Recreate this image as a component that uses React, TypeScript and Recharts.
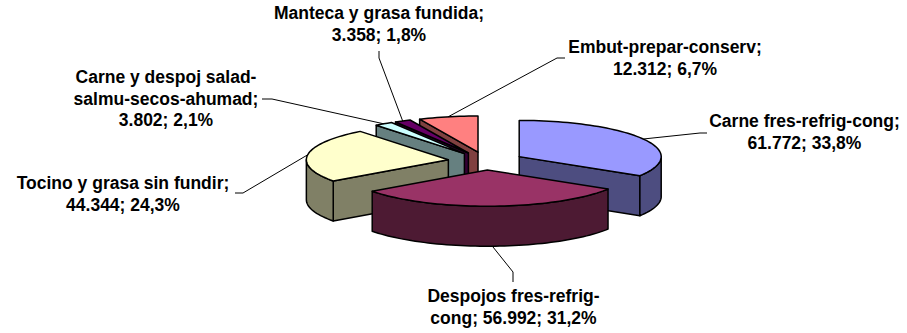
import { Pie, PieChart } from "recharts";

// Data, listed from the slice painted first to the slice painted last
const categories = [
    "Carne fres-refrig-cong",
    "Embut-prepar-conserv",
    "Manteca y grasa fundida",
    "Carne y despoj salad-salmu-secos-ahumad",
    "Tocino y grasa sin fundir",
    "Despojos fres-refrig-cong",
];
const values = [61772, 12312, 3358, 3802, 44344, 56992];
const labelLines = [
    ["Carne fres-refrig-cong;", "61.772; 33,8%"],
    ["Embut-prepar-conserv;", "12.312; 6,7%"],
    ["Manteca y grasa fundida;", "3.358; 1,8%"],
    ["Carne y despoj salad-", "salmu-secos-ahumad;", "3.802; 2,1%"],
    ["Tocino y grasa sin fundir;", "44.344; 24,3%"],
    ["Despojos fres-refrig-", "cong; 56.992; 31,2%"],
];
const fills = ["#9999ff", "#ff8080", "#660066", "#ccffff", "#ffffcc", "#993366"];
const sideFills = ["#4d4d80", "#804040", "#330033", "#668080", "#808066", "#4d1a33"];

const CX = 486;
const CY = 161;
const RADIUS = 142;
const SQUASH = 0.255;
const DEPTH = 40;
const EXPLODE_X = 38;
const EXPLODE_Y = 9;
const LINE_HEIGHT = 21.7;

// label centre + first baseline, and the two leader points beside the text
const labelLayout = [
    { x: 804.5, y: 127, leader: [[707, 133], [700, 133]] },
    { x: 665, y: 53, leader: [[565, 58], [557, 58]] },
    { x: 379, y: 19, leader: [[379, 51], [379, 58]] },
    { x: 166, y: 83, leader: [[262, 99], [272, 99]] },
    { x: 123, y: 189, leader: [[235, 193], [243, 193]] },
    { x: 513.5, y: 302, leader: [[513, 282], [513, 272]] },
];

const data = categories.map((name, i) => ({
    name,
    value: values[i],
    fill: fills[i],
    side: sideFills[i],
}));

const total = values.reduce((a, b) => a + b, 0);
// first slice ends at 12 o'clock, the rest go on counter-clockwise
const START = 90 - (360 * values[0]) / total;

const rad = (deg: number) => (deg * Math.PI) / 180;

function apex(cx: number, cy: number, mid: number) {
    return { x: cx + EXPLODE_X * Math.cos(rad(mid)), y: cy - EXPLODE_Y * Math.sin(rad(mid)) };
}

function rim(a: { x: number; y: number }, r: number, deg: number, drop = 0) {
    return { x: a.x + r * Math.cos(rad(deg)), y: a.y - r * SQUASH * Math.sin(rad(deg)) + drop };
}

function arc(a: { x: number; y: number }, r: number, from: number, to: number, drop = 0) {
    const pts: string[] = [];
    const steps = Math.max(2, Math.ceil(Math.abs(to - from) / 2));
    for (let i = 0; i <= steps; i++) {
        const p = rim(a, r, from + ((to - from) * i) / steps, drop);
        pts.push(`${p.x.toFixed(2)} ${p.y.toFixed(2)}`);
    }
    return pts;
}

function Slice(props: any) {
    const { cx, cy, outerRadius: r, startAngle, endAngle, fill, side } = props;
    const mid = (startAngle + endAngle) / 2;
    const a = apex(cx, cy, mid);
    const stroke = { stroke: "#000", strokeWidth: 1.5, strokeLinejoin: "round" as const };
    const walls: string[] = [];

    const radialWall = (deg: number) => {
        const p = rim(a, r, deg);
        walls.push(`M${a.x} ${a.y}L${p.x} ${p.y}L${p.x} ${p.y + DEPTH}L${a.x} ${a.y + DEPTH}Z`);
    };
    if (Math.cos(rad(startAngle)) > 0.001) radialWall(startAngle);
    if (Math.cos(rad(endAngle)) < -0.001) radialWall(endAngle);

    // the front of the rim is the part between 180 and 360 degrees
    for (const shift of [-360, 0, 360]) {
        const from = Math.max(startAngle, 180 + shift);
        const to = Math.min(endAngle, 360 + shift);
        if (to > from) {
            const top = arc(a, r, from, to);
            const bottom = arc(a, r, to, from, DEPTH);
            walls.push(`M${top.join("L")}L${bottom.join("L")}Z`);
        }
    }

    return (
        <g>
            {walls.map((d) => (
                <path key={d} d={d} fill={side} {...stroke} />
            ))}
            <path d={`M${a.x} ${a.y}L${arc(a, r, startAngle, endAngle).join("L")}Z`} fill={fill} {...stroke} />
        </g>
    );
}

function SliceLabel(props: any) {
    const { cx, cy, outerRadius: r, midAngle, index } = props;
    const layout = labelLayout[index];
    const a = apex(cx, cy, midAngle);
    const front = Math.sin(rad(midAngle)) < -0.9;
    const end = rim(a, r, midAngle, front ? DEPTH : 0);
    const points = [...layout.leader, [end.x, end.y]].map((p) => p.join(",")).join(" ");

    return (
        <g>
            <polyline points={points} fill="none" stroke="#000" strokeWidth={1} />
            <text x={layout.x} textAnchor="middle" fill="#000" fontFamily="'Liberation Sans', Arial, sans-serif" fontWeight="bold" fontSize={17.5}>
                {labelLines[index].map((line, i) => (
                    <tspan key={line} x={layout.x} y={layout.y + i * LINE_HEIGHT}>
                        {line}
                    </tspan>
                ))}
            </text>
        </g>
    );
}

export default function App() {
    return (
        <div style={{ position: "absolute", left: 0, top: 0, background: "#fff" }}>
            <PieChart width={907} height={333} margin={{ top: 0, right: 0, bottom: 0, left: 0 }}>
                <Pie
                    data={data}
                    dataKey="value"
                    nameKey="name"
                    cx={CX}
                    cy={CY}
                    outerRadius={RADIUS}
                    startAngle={START}
                    endAngle={START + 360}
                    stroke="none"
                    shape={Slice}
                    label={SliceLabel}
                    labelLine={false}
                    isAnimationActive={false}
                />
            </PieChart>
        </div>
    );
}
